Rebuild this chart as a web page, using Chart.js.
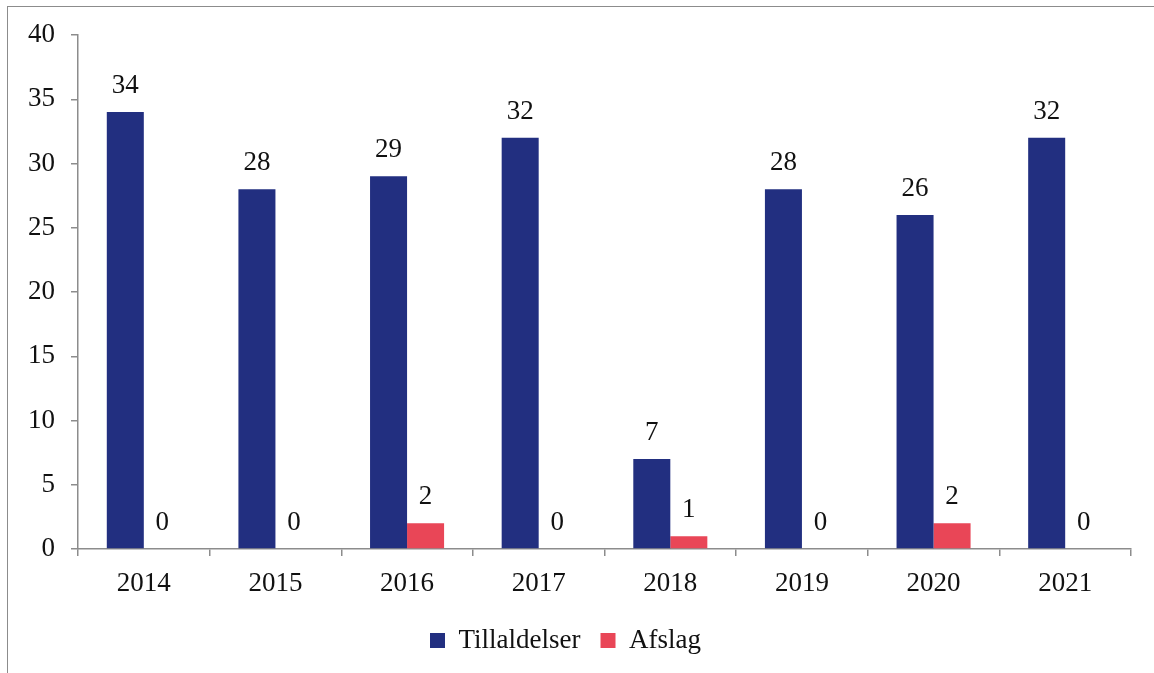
<!DOCTYPE html>
<html>
<head>
<meta charset="utf-8">
<script src="https://cdn.jsdelivr.net/npm/chart.js@4/dist/chart.umd.min.js"></script>
<style>
  html, body { margin: 0; padding: 0; background: #fff; }
  #wrap { position: relative; width: 1154px; height: 673px; }
  #frame { position: absolute; left: 7px; top: 6px; right: -10px; bottom: -10px;
           border-left: 1.5px solid #8c8c8c; border-top: 1.5px solid #8c8c8c; }
  canvas { position: absolute; left: 0; top: 0; }
</style>
</head>
<body>
<div id="wrap">
  <div id="frame"></div>
  <canvas id="chart" width="1154" height="673"></canvas>
</div>
<script>
// data
const years = ['2014', '2015', '2016', '2017', '2018', '2019', '2020', '2021'];
const tillaldelser = [34, 28, 29, 32, 7, 28, 26, 32];
const afslag = [0, 0, 2, 0, 1, 0, 2, 0];

const FONT = "'Liberation Serif', 'Times New Roman', serif";
const AXIS = '#8c8c8c';

Chart.defaults.font.family = FONT;
Chart.defaults.font.size = 27;
Chart.defaults.color = '#111';

// labels over the bars
const barLabels = {
  id: 'barLabels',
  afterDatasetsDraw(chart) {
    const ctx = chart.ctx;
    ctx.save();
    ctx.font = "27px " + FONT;
    ctx.fillStyle = '#111';
    ctx.textAlign = 'center';
    ctx.textBaseline = 'middle';
    chart.data.datasets.forEach((ds, i) => {
      chart.getDatasetMeta(i).data.forEach((bar, j) => {
        ctx.fillText(String(ds.data[j]), bar.x, bar.y - 26);
      });
    });
    ctx.restore();
  }
};

new Chart(document.getElementById('chart'), {
  type: 'bar',
  data: {
    labels: years,
    datasets: [
      { label: 'Tillaldelser', data: tillaldelser, backgroundColor: '#222f80' },
      { label: 'Afslag', data: afslag, backgroundColor: '#e94657' }
    ]
  },
  options: {
    responsive: false,
    animation: false,
    categoryPercentage: 0.5625,
    barPercentage: 1,
    layout: { padding: { left: 0, top: 35, right: 23, bottom: 9 } },
    plugins: {
      legend: {
        position: 'bottom',
        labels: { boxWidth: 15, boxHeight: 15, padding: 20, font: { size: 27 } }
      },
      tooltip: { enabled: false }
    },
    scales: {
      x: {
        grid: { drawOnChartArea: false, tickLength: 7, color: AXIS, tickColor: AXIS, lineWidth: 1.5 },
        border: { color: AXIS, width: 1.5 },
        ticks: { padding: 12 },
        afterFit: s => { s.height = 58; }
      },
      y: {
        min: 0, max: 40,
        ticks: { stepSize: 5, padding: 16 },
        grid: { drawOnChartArea: false, tickLength: 7, color: AXIS, tickColor: AXIS, lineWidth: 1.5 },
        border: { color: AXIS, width: 1.5 },
        afterFit: s => { s.width = 78; }
      }
    }
  },
  plugins: [barLabels]
});
</script>
</body>
</html>
